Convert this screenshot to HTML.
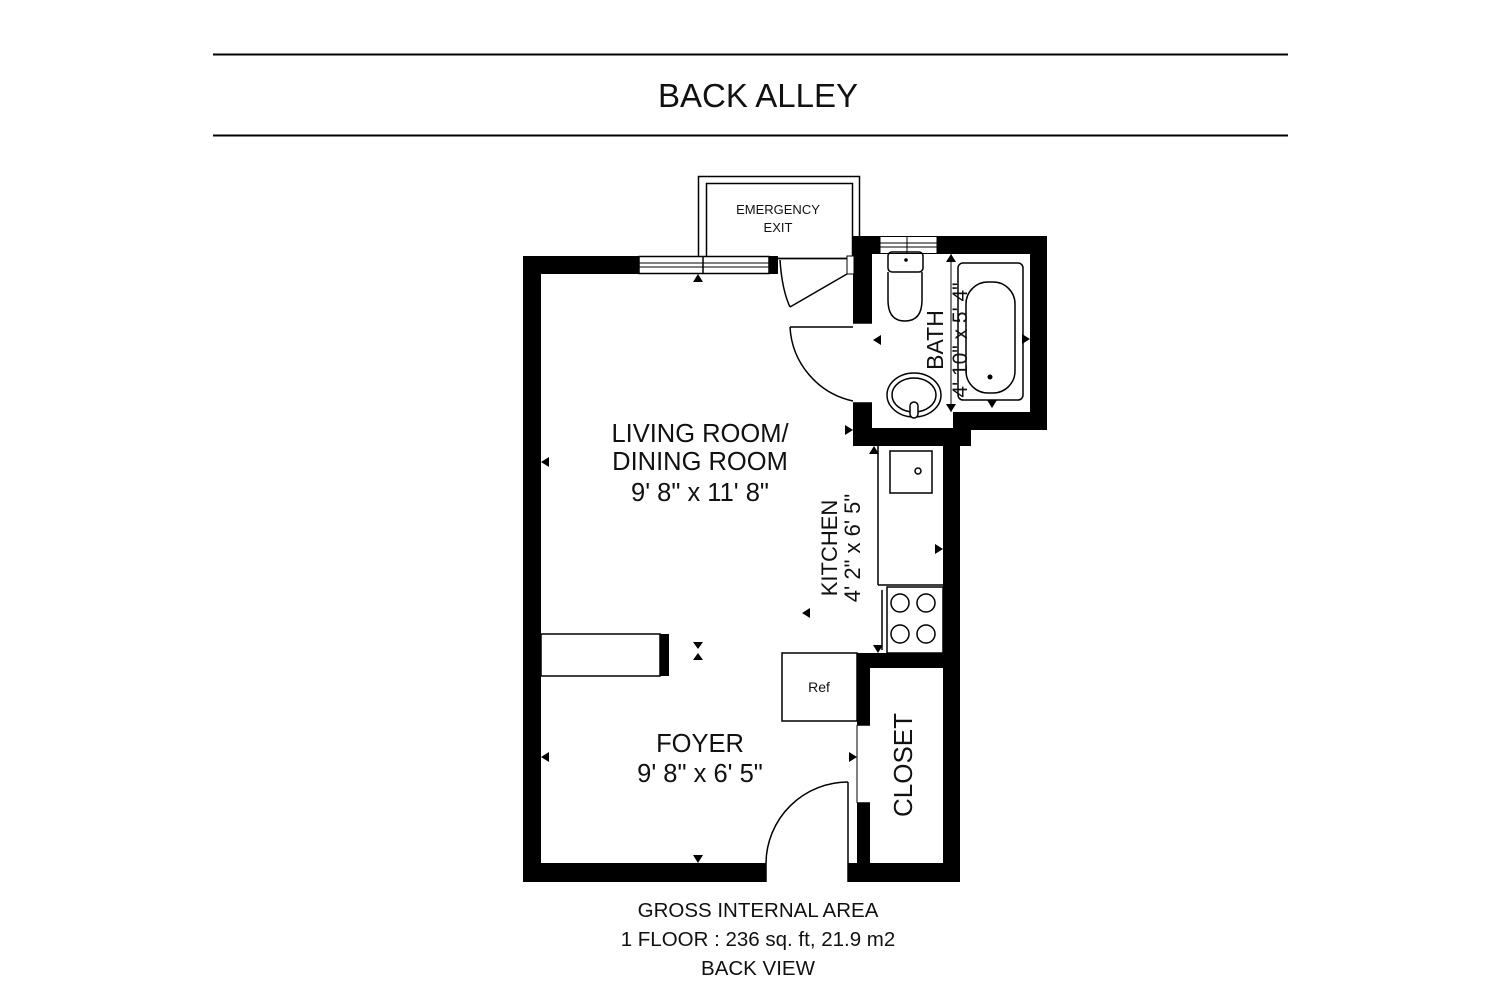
<!DOCTYPE html>
<html><head><meta charset="utf-8"><style>
html,body{margin:0;padding:0;background:#fff;}
svg{display:block;}
text{font-family:"Liberation Sans",Arial,sans-serif;fill:#111;}
</style></head><body>
<svg width="1500" height="1000" viewBox="0 0 1500 1000" xmlns="http://www.w3.org/2000/svg">
<rect width="1500" height="1000" fill="#fff"/>
<line x1="213" y1="54.5" x2="1288" y2="54.5" stroke="#000" stroke-width="2"/>
<line x1="213" y1="135.5" x2="1288" y2="135.5" stroke="#000" stroke-width="2"/>
<text x="758" y="107" font-size="33" text-anchor="middle">BACK ALLEY</text>

<rect x="698.5" y="176.5" width="161" height="82" fill="none" stroke="#000" stroke-width="1.5"/>
<rect x="706.5" y="183.5" width="146" height="75" fill="none" stroke="#000" stroke-width="1.5"/>
<text x="778" y="214" font-size="13" text-anchor="middle">EMERGENCY</text>
<text x="778" y="232" font-size="13" text-anchor="middle">EXIT</text>

<g fill="#000">
<rect x="523" y="256" width="116" height="18"/>
<rect x="769" y="256" width="9" height="18"/>
<rect x="523" y="256" width="18" height="626"/>
<rect x="523" y="863" width="243" height="19"/>
<rect x="848" y="863" width="111" height="19"/>
<rect x="853" y="236" width="27" height="18"/>
<rect x="937" y="236" width="110" height="18"/>
<rect x="1030" y="236" width="17" height="194"/>
<rect x="953" y="412" width="94" height="18"/>
<rect x="853" y="236" width="19" height="87"/>
<rect x="853" y="403" width="19" height="43"/>
<rect x="853" y="428" width="118" height="18"/>
<rect x="943" y="428" width="17" height="454"/>
<rect x="857" y="653" width="103" height="15"/>
<rect x="857" y="653" width="13" height="72"/>
<rect x="857" y="803" width="13" height="79"/>
<rect x="660" y="634" width="9" height="42"/>
</g>
<rect x="847" y="256" width="7" height="18" fill="#fff" stroke="#000" stroke-width="1"/>
<rect x="639" y="256.5" width="130" height="17" fill="#fff" stroke="#000" stroke-width="1.5"/>
<line x1="639" y1="263" x2="769" y2="263" stroke="#000" stroke-width="1"/>
<line x1="639" y1="267" x2="769" y2="267" stroke="#000" stroke-width="1"/>
<line x1="703" y1="256" x2="703" y2="274" stroke="#000" stroke-width="1.5"/>
<rect x="880" y="236.5" width="57" height="17" fill="#fff" stroke="#000" stroke-width="1"/>
<line x1="880" y1="243" x2="937" y2="243" stroke="#000" stroke-width="1"/>
<line x1="880" y1="247" x2="937" y2="247" stroke="#000" stroke-width="1"/>
<line x1="907" y1="236" x2="907" y2="254" stroke="#000" stroke-width="1"/>

<g fill="none" stroke="#000" stroke-width="1.5">
<path d="M780 260 Q782 290 790 307"/>
<line x1="790" y1="307" x2="847" y2="274"/>
<path d="M790 327 A 80 80 0 0 0 853 401"/>
<line x1="790" y1="327" x2="853" y2="327"/>
<line x1="853" y1="323" x2="872" y2="323"/>
<line x1="853" y1="403" x2="872" y2="403"/>
<path d="M766 863 A 82 82 0 0 1 848 782"/>
<line x1="848" y1="782" x2="848" y2="863"/>
<line x1="766" y1="863" x2="766" y2="882"/>
<line x1="848" y1="863" x2="848" y2="882"/>
<line x1="857" y1="725" x2="870" y2="725"/>
<line x1="857" y1="803" x2="870" y2="803"/>
<line x1="857" y1="725" x2="857" y2="803" stroke-width="1"/>
<rect x="541" y="634" width="119" height="42"/>
<rect x="782" y="653" width="75" height="68"/>
<line x1="878" y1="446" x2="878" y2="585"/>
<line x1="878" y1="585" x2="943" y2="585"/>
<rect x="890" y="451" width="42" height="42"/>
<circle cx="918" cy="471" r="3"/>
<rect x="887" y="587" width="56" height="66"/>
<line x1="882" y1="590" x2="882" y2="650"/>
<circle cx="900" cy="603" r="9"/><circle cx="926" cy="603" r="9"/>
<circle cx="900" cy="634" r="9"/><circle cx="926" cy="634" r="9"/>
<rect x="888" y="252" width="35" height="20" rx="4"/>
<path d="M888 272 L888 300 Q888 321 905 321 Q922 321 922 300 L922 272"/>
<ellipse cx="914" cy="395" rx="27" ry="22"/>
<ellipse cx="914" cy="395" rx="22" ry="17"/>
<rect x="910" y="402" width="8" height="16" rx="4" fill="#fff"/>
<rect x="958" y="263" width="65" height="137" rx="5"/>
<rect x="966" y="282" width="49" height="111" rx="22"/>
<line x1="951" y1="254" x2="951" y2="412" stroke-width="1"/>
</g>
<circle cx="906" cy="260" r="1.8" fill="#000"/>
<circle cx="990" cy="377" r="2.5" fill="#000"/>
<g fill="#000">
<polygon points="698,274 693,282 703,282"/>
<polygon points="541,462 549,457 549,467"/>
<polygon points="541,757 549,752 549,762"/>
<polygon points="698,863 693,855 703,855"/>
<polygon points="698,649 693,642 703,642"/><polygon points="698,653 693,660 703,660"/>
<polygon points="802,613 810,608 810,618"/>
<polygon points="857,757 849,752 849,762"/>
<polygon points="853,430 845,425 845,435"/>
<polygon points="873,340 881,335 881,345"/>
<polygon points="874,446 869,454 879,454"/>
<polygon points="943,549 935,544 935,554"/>
<polygon points="878,653 873,645 883,645"/>
<polygon points="1030,339 1022,334 1022,344"/>
<polygon points="951,254 946,262 956,262"/>
<polygon points="951,412 946,404 956,404"/>
<polygon points="992,408 987,400 997,400"/>
</g>

<text x="700" y="442" font-size="25.5" text-anchor="middle">LIVING ROOM/</text>
<text x="700" y="470" font-size="25.5" text-anchor="middle">DINING ROOM</text>
<text x="700" y="501" font-size="25.5" text-anchor="middle">9' 8" x 11' 8"</text>
<text x="700" y="752" font-size="25.5" text-anchor="middle">FOYER</text>
<text x="700" y="782" font-size="25.5" text-anchor="middle">9' 8" x 6' 5"</text>
<text x="819" y="692" font-size="14" text-anchor="middle">Ref</text>
<text transform="translate(837,548) rotate(-90)" font-size="22" text-anchor="middle">KITCHEN</text>
<text transform="translate(860,548) rotate(-90)" font-size="22" text-anchor="middle">4' 2" x 6' 5"</text>
<text transform="translate(943,340) rotate(-90)" font-size="23" text-anchor="middle">BATH</text>
<text transform="translate(967,340) rotate(-90)" font-size="21" text-anchor="middle">4' 10" x 5' 4"</text>
<text transform="translate(912,765) rotate(-90)" font-size="26" text-anchor="middle">CLOSET</text>

<text x="758" y="917" font-size="20.5" text-anchor="middle">GROSS INTERNAL AREA</text>
<text x="758" y="946" font-size="20.5" text-anchor="middle">1 FLOOR : 236 sq. ft, 21.9 m2</text>
<text x="758" y="975" font-size="20.5" text-anchor="middle">BACK VIEW</text>
</svg>
</body></html>
